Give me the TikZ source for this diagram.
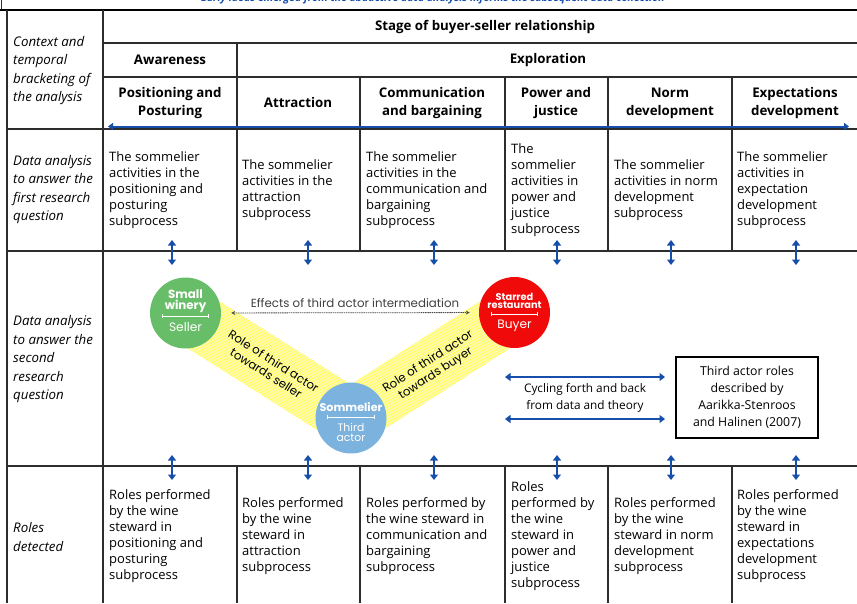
\documentclass[tikz,border=0pt]{standalone}
\usepackage{fontspec}
\setmainfont{Open Sans}
\newfontfamily\geofont{Poppins}
\usetikzlibrary{arrows.meta,patterns}

\definecolor{arrowblue}{RGB}{22,78,170}
\definecolor{linegray}{RGB}{45,45,45}
\definecolor{winegreen}{RGB}{104,190,104}
\definecolor{buyerred}{RGB}{240,10,10}
\definecolor{sommblue}{RGB}{124,178,222}
\definecolor{bandyellow}{RGB}{253,250,185}

\tikzset{
  grid/.style={draw=linegray, line width=1.3pt},
  cell/.style={align=left, anchor=west, inner sep=0pt, font=\fontsize{13}{16}\selectfont},
  head/.style={align=center, inner sep=0pt, font=\bfseries\fontsize{13.3}{18}\selectfont},
  side/.style={align=left, anchor=west, inner sep=0pt, font=\itshape\fontsize{13.3}{18.5}\selectfont},
  updown/.style={arrowblue, line width=2pt, {Triangle[width=8pt,length=5.5pt]}-{Triangle[width=8pt,length=5.5pt]}},
  actor/.style={circle, minimum size=71pt, inner sep=0pt},
  actorname/.style={white, align=center, inner sep=0pt, font=\geofont\bfseries\fontsize{11.8}{11}\selectfont},
  actorrole/.style={white, align=center, inner sep=0pt, font=\geofont\fontsize{12.2}{10}\selectfont},
  band/.style={fill=bandyellow},
  bandhatch/.style={pattern=north west lines, pattern color=yellow!75},
  bandtext/.style={align=center, inner sep=0pt, font=\geofont\fontsize{11.8}{14}\selectfont},
}

\begin{document}
\begin{tikzpicture}[x=1pt,y=-1pt]
    \useasboundingbox (0,0) rectangle (857,603);

    % note on top, mostly cut away
    \node[arrowblue, font=\bfseries\itshape\fontsize{10.5}{12}\selectfont] (note) at (433,-1) {Early ideas emerged from the abductive data analysis informs the subsequent data collection};

    % table lines
    \draw[black, line width=2.6pt] (0,10) -- (857,10);
    \draw[linegray, line width=0.8pt] (1,0) -- (1,9);
    \draw[grid] (7,10) -- (7,603);
    \draw[grid] (103,10) -- (103,603);
    \draw[grid] (103,43) -- (857,43);
    \draw[grid] (103,77) -- (857,77);
    \draw[grid] (7,129) -- (857,129);
    \draw[grid] (7,251) -- (857,251);
    \draw[grid] (7,466) -- (857,466);
    \draw[grid] (237,43) -- (237,251);
    \draw[grid] (237,466) -- (237,603);
    \foreach \x in {360,505,608,732} {
        \draw[grid] (\x,77) -- (\x,251);
        \draw[grid] (\x,466) -- (\x,603);
    }

    % left column
    \node[side] (ctx) at (13,70.5) {Context and\\temporal\\bracketing of\\the analysis};
    \node[side] (first) at (13,189.5) {Data analysis\\to answer the\\first research\\question};
    \node[side] (second) at (13,359.5) {Data analysis\\to answer the\\second\\research\\question};
    \node[side] (roles) at (13,537) {Roles\\detected};

    % headers
    \node[head] (stage) at (485,27) {Stage of buyer-seller relationship};
    \node[head] (aware) at (170,60) {Awareness};
    \node[head] (explore) at (548,60) {Exploration};
    \node[head] (h1) at (170,103) {Positioning and\\Posturing};
    \node[head] (h2) at (298,103) {Attraction};
    \node[head] (h3) at (432,103) {Communication\\and bargaining};
    \node[head] (h4) at (556,103) {Power and\\justice};
    \node[head] (h5) at (670,103) {Norm\\development};
    \node[head] (h6) at (795,103) {Expectations\\development};

    % time arrow
    \coordinate (time-l) at (108,126.5);
    \coordinate (time-r) at (849,126.5);
    \draw[arrowblue, line width=2pt, {Triangle[width=7pt,length=5pt]}-{Triangle[width=7pt,length=5pt]}] (time-l) -- (time-r);

    % first research question
    \node[cell] (a1) at (109,190) {The sommelier\\activities in the\\positioning and\\posturing\\subprocess};
    \node[cell] (a2) at (242,190) {The sommelier\\activities in the\\attraction\\subprocess};
    \node[cell] (a3) at (366,190) {The sommelier\\activities in the\\communication and\\bargaining\\subprocess};
    \node[cell] (a4) at (511,190) {The\\sommelier\\activities in\\power and\\justice\\subprocess};
    \node[cell] (a5) at (614,190) {The sommelier\\activities in norm\\development\\subprocess};
    \node[cell] (a6) at (737,190) {The sommelier\\activities in\\expectation\\development\\subprocess};

    % roles detected
    \node[cell] (r1) at (109,536) {Roles performed\\by the wine\\steward in\\positioning and\\posturing\\subprocess};
    \node[cell] (r2) at (242,536) {Roles performed\\by the wine\\steward in\\attraction\\subprocess};
    \node[cell] (r3) at (366,536) {Roles performed by\\the wine steward in\\communication and\\bargaining\\subprocess};
    \node[cell] (r4) at (511,536) {Roles\\performed by\\the wine\\steward in\\power and\\justice\\subprocess};
    \node[cell] (r5) at (614,536) {Roles performed\\by the wine\\steward in norm\\development\\subprocess};
    \node[cell] (r6) at (737,536) {Roles performed\\by the wine\\steward in\\expectations\\development\\subprocess};

    % small arrows between rows
    \foreach \x [count=\i] in {172,308,434,557,671,796} {
        \coordinate (up\i-t) at (\x,240);
        \coordinate (up\i-b) at (\x,265);
        \coordinate (dn\i-t) at (\x,455);
        \coordinate (dn\i-b) at (\x,480);
        \draw[updown] (up\i-t) -- (up\i-b);
        \draw[updown] (dn\i-t) -- (dn\i-b);
    }

    % yellow bands
    \fill[band] (200,289) -- (366,394) -- (336,442) -- (170,337) -- cycle;
    \fill[bandhatch] (200,289) -- (366,394) -- (336,442) -- (170,337) -- cycle;
    \fill[band] (366,441) -- (529,336) -- (499,289) -- (336,394) -- cycle;
    \fill[bandhatch] (366,441) -- (529,336) -- (499,289) -- (336,394) -- cycle;
    \node[bandtext, rotate=-32.3] (seller-role) at (270,367) {Role of third actor\\towards seller};
    \node[bandtext, rotate=32.8] (buyer-role) at (432,368) {Role of third actor\\towards buyer};

    % actors
    \node[actor, fill=winegreen] (winery) at (185.5,313) {};
    \node[actor, fill=buyerred] (restaurant) at (514.5,312.5) {};
    \node[actor, fill=sommblue] (sommelier) at (351,418) {};

    \node[actorname] (winery-name) at (185.5,301) {Small\\winery};
    \draw[white, line width=0.7pt, {Bar[width=4pt]}-{Bar[width=4pt]}] (162,316) -- (209,316);
    \node[actorrole] (winery-role) at (185.5,327) {Seller};

    \node[actorname, font=\geofont\bfseries\fontsize{9.8}{8.5}\selectfont] (restaurant-name) at (514.5,301) {Starred\\restaurant};
    \draw[white, line width=0.7pt, {Bar[width=4pt]}-{Bar[width=4pt]}] (491,314) -- (538,314);
    \node[actorrole] (restaurant-role) at (514.5,326) {Buyer};

    \node[actorname, font=\geofont\bfseries\fontsize{11.2}{11}\selectfont] (sommelier-name) at (351,407.5) {Sommelier};
    \draw[white, line width=0.7pt, {Bar[width=4pt]}-{Bar[width=4pt]}] (327,417) -- (375,417);
    \node[actorrole, font=\geofont\fontsize{10.8}{9.5}\selectfont] (sommelier-role) at (351,432.5) {Third\\actor};

    % effects arrow
    \node[text=black!75, inner sep=0pt, font=\geofont\fontsize{11.8}{14}\selectfont] (effects) at (355,303) {Effects of third actor intermediation};
    \draw[black!70, line width=0.8pt, dash pattern=on 1.5pt off 0.7pt, {Stealth[length=4pt,width=4pt]}-{Stealth[length=4pt,width=4pt]}, shorten <=10pt, shorten >=9pt] (winery) -- (restaurant);

    % cycling between data and theory
    \coordinate (cyc1-l) at (505,377);
    \coordinate (cyc1-r) at (665,377);
    \coordinate (cyc2-l) at (505,419);
    \coordinate (cyc2-r) at (665,419);
    \draw[updown] (cyc1-l) -- (cyc1-r);
    \draw[updown] (cyc2-l) -- (cyc2-r);
    \node[align=center, inner sep=0pt, font=\fontsize{11.8}{17}\selectfont] (cycling) at (585,398) {Cycling forth and back\\from data and theory};

    \node[draw=black, line width=1.2pt, minimum width=142pt, minimum height=81pt, align=center, font=\fontsize{12.3}{17}\selectfont] (theory) at (747,397.5) {Third actor roles\\described by\\Aarikka-Stenroos\\and Halinen (2007)};

\end{tikzpicture}
\end{document}
